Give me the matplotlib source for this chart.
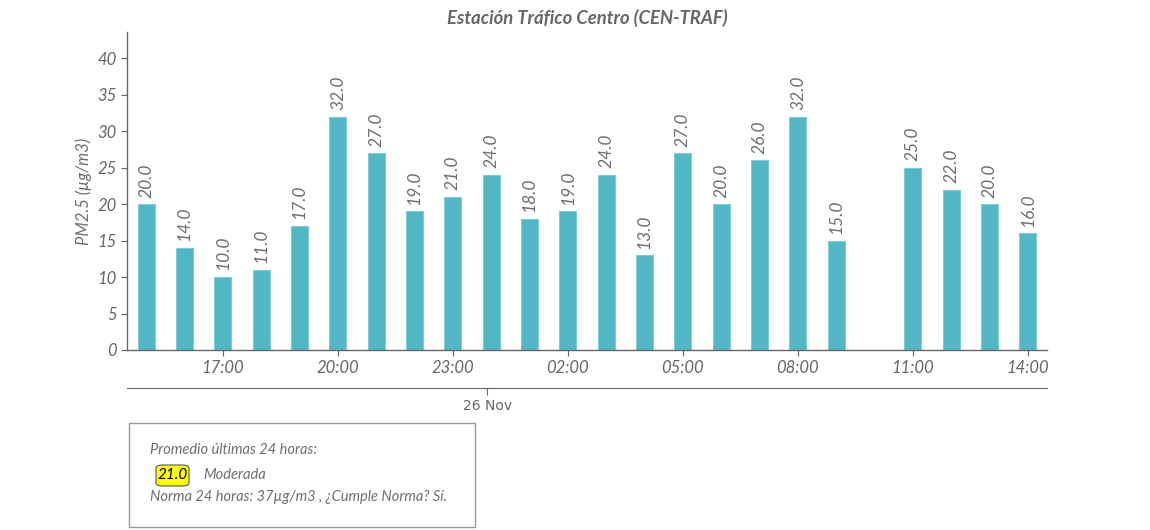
import matplotlib
matplotlib.use("Agg")
import matplotlib.pyplot as plt
import numpy as np
from matplotlib.patches import FancyBboxPatch, Rectangle

hours = ["15:00","16:00","17:00","18:00","19:00","20:00","21:00","22:00","23:00",
         "00:00","01:00","02:00","03:00","04:00","05:00","06:00","07:00","08:00",
         "09:00","10:00","11:00","12:00","13:00","14:00"]
values = [20, 14, 10, 11, 17, 32, 27, 19, 21, 24, 18, 19, 24, 13, 27, 20, 26, 32,
          15, np.nan, 25, 22, 20, 16]
tick_labels = ["17:00","20:00","23:00","02:00","05:00","08:00","11:00","14:00"]
y_ticks = [0, 5, 10, 15, 20, 25, 30, 35, 40]
title = "Estación Tráfico Centro (CEN-TRAF)"
date_label = "26 Nov"
avg_value = 21.0

gray = "#666666"
bar_color = "#52b7c5"
plt.rcParams['font.family'] = ['Lato', 'DejaVu Sans']

fig = plt.figure(figsize=(11.5, 5.3), dpi=100)
ax = fig.add_axes([127/1150, 1-350/530, 920/1150, 318/530])

x = np.arange(len(hours))
ax.bar(x, values, width=0.45, color=bar_color, edgecolor="#7ccbd6", linewidth=0.8)
for xi, v in zip(x, values):
    if not np.isnan(v):
        ax.text(xi, v + 0.9, f"{v:.1f}", rotation=90, ha="center", va="bottom",
                fontsize=12.5, style="italic", color="#6e6e6e")

ax.set_xlim(-0.5, len(hours) - 0.5)
ax.set_ylim(0, 43.6)
ax.set_yticks(y_ticks)
ax.set_yticklabels([str(t) for t in y_ticks], fontsize=12, style="italic", color="#6e6e6e")
tpos = [hours.index(t) for t in tick_labels]
ax.set_xticks(tpos)
ax.set_xticklabels(tick_labels, fontsize=12, style="italic", color="#6e6e6e")
ax.tick_params(axis="both", colors=gray, length=4, width=0.8)
ax.tick_params(axis="x", pad=3)
for s in ["top", "right"]:
    ax.spines[s].set_visible(False)
for s in ["left", "bottom"]:
    ax.spines[s].set_color(gray)
    ax.spines[s].set_linewidth(1)
ax.set_ylabel("PM2.5 (µg/m3)", fontsize=12, style="italic", color="#6e6e6e", labelpad=4)
ax.set_title(title, fontsize=13.3, style="italic", fontweight="bold", color=gray, pad=6)

# secondary date axis
ax2 = fig.add_axes([127/1150, 1-388/530, 920/1150, 0.001])
ax2.set_xlim(ax.get_xlim())
for s in ["top", "right", "left"]:
    ax2.spines[s].set_visible(False)
ax2.spines["bottom"].set_color(gray)
ax2.set_yticks([])
ax2.set_xticks([hours.index("00:00") - 0.1])
ax2.set_xticklabels([date_label], fontsize=10, color=gray, family="DejaVu Sans")
ax2.tick_params(axis="x", colors=gray, length=5, width=0.8, pad=3)

# info box
fig.patches.append(Rectangle((129/1150, 1-527/530), 346/1150, 104/530,
                             transform=fig.transFigure, facecolor="white",
                             edgecolor="#999999", linewidth=1))
fig.text(150/1150, 1-450/530, "Promedio últimas 24 horas:", fontsize=10.5,
         style="italic", color="#6e6e6e", va="center")
fig.patches.append(FancyBboxPatch((156/1150, 1-486/530), 33/1150, 21/530,
                                  boxstyle="round,pad=0,rounding_size=0.006",
                                  transform=fig.transFigure, facecolor="#ffff00",
                                  edgecolor="#555555", linewidth=0.8))
fig.text(172.5/1150, 1-475/530, f"{avg_value:.1f}", fontsize=11, style="italic",
         color="black", ha="center", va="center")
fig.text(203/1150, 1-475/530, "Moderada", fontsize=10.5, style="italic",
         color="#6e6e6e", va="center")
fig.text(150/1150, 1-497/530, "Norma 24 horas: 37µg/m3 , ¿Cumple Norma? Sí.",
         fontsize=10.5, style="italic", color="#6e6e6e", va="center")

fig.savefig("out.png", dpi=100)
